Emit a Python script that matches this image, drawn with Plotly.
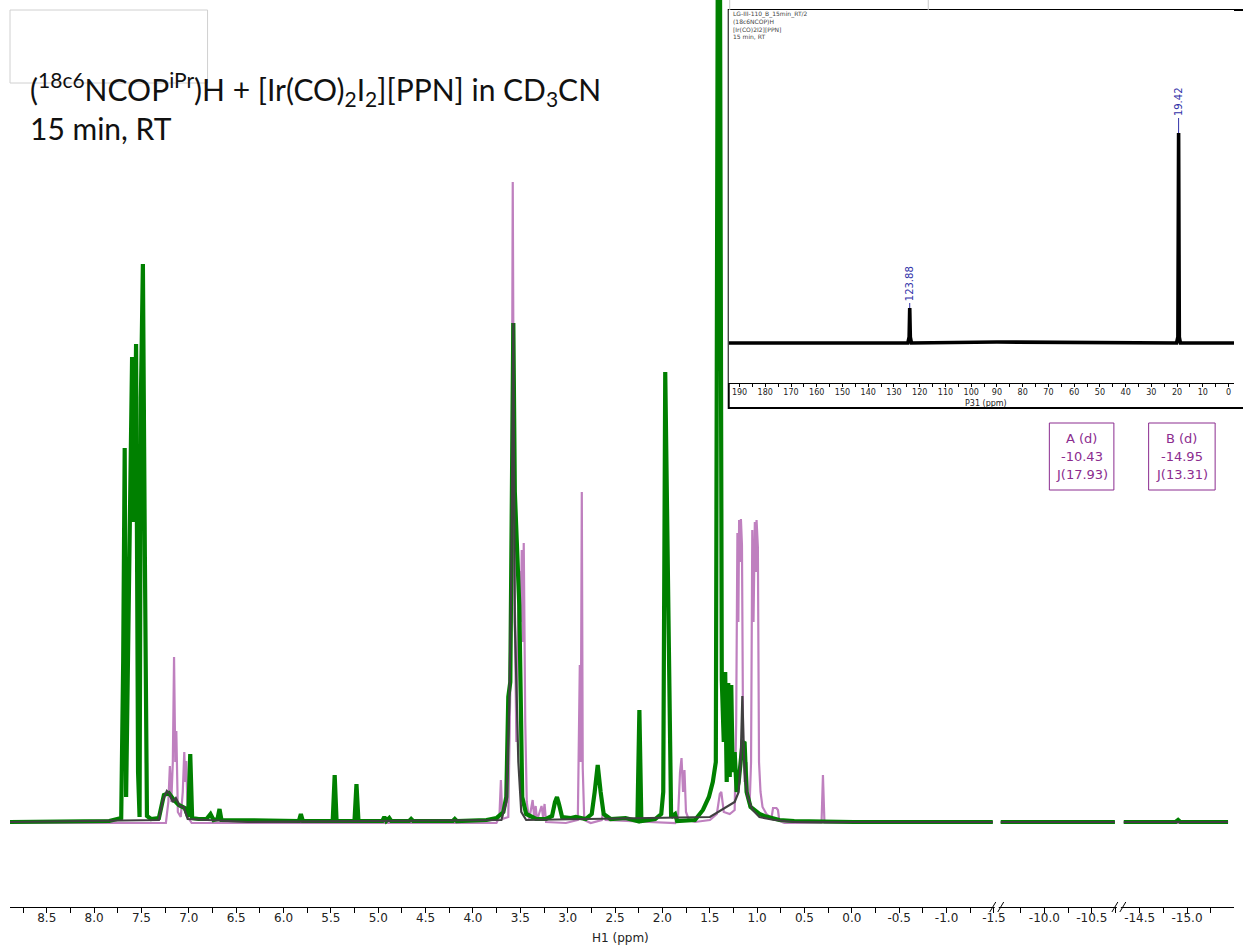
import plotly.graph_objects as go

# ---------------- spectrum data (ppm, intensity in arbitrary units) ----------------
# 1H spectrum, product mixture (green)
GREEN_PPM = [8.888, 8.364, 7.840, 7.756, 7.714, 7.693, 7.677, 7.662, 7.635, 7.620, 7.599, 7.578,
             7.557, 7.536, 7.520, 7.506, 7.485, 7.464, 7.442, 7.400, 7.316, 7.263, 7.211, 7.158,
             7.106, 7.043, 7.006, 6.985, 6.965, 6.896, 6.813, 6.771, 6.739, 6.697, 6.676, 6.655,
             6.058, 5.838, 5.817, 5.796, 5.481, 5.460, 5.440, 5.251, 5.230, 5.209, 4.957, 4.936,
             4.915, 4.884, 4.863, 4.674, 4.653, 4.632, 4.213, 4.192, 4.171, 3.857, 3.752, 3.679,
             3.648, 3.627, 3.606, 3.590, 3.574, 3.558, 3.542, 3.527, 3.511, 3.495, 3.480, 3.438,
             3.333, 3.228, 3.165, 3.134, 3.113, 3.092, 3.059, 2.966, 2.914, 2.809, 2.746, 2.715,
             2.683, 2.652, 2.620, 2.547, 2.389, 2.264, 2.243, 2.222, 2.075, 2.012, 1.991, 1.970,
             1.950, 1.929, 1.908, 1.866, 1.845, 1.656, 1.572, 1.509, 1.468, 1.436, 1.404, 1.373,
             1.352, 1.337, 1.321, 1.305, 1.289, 1.273, 1.258, 1.237, 1.216, 1.195, 1.174, 1.153,
             1.132, 1.111, 1.069, 1.027, 0.975, 0.922, 0.838, 0.765, 0.608, -0.021, -1.488,
             -9.539, -10.744,
             -14.332, -14.880, -14.906, -14.930, -15.433]
GREEN_INT = [0, 0, 1, 3, 4, 160, 374, 25, 230, 340, 465, 300,
             478, 50, 5, 424, 558, 265, 6, 3, 4, 27, 29, 22,
             17, 14, 5, 68, 4, 3, 3, 8, 2, 3, 13, 2,
             1, 1, 8, 1, 1, 47, 1, 1, 38, 1, 1, 5,
             1, 4, 1, 1, 3, 1, 1, 3, 1, 2, 4, 10,
             25, 125, 140, 300, 499, 330, 285, 260, 217, 120, 25, 8,
             3, 3, 6, 20, 25, 18, 5, 4, 5, 3, 8, 30,
             57, 30, 8, 3, 4, 1, 112, 1, 3, 8, 30, 450,
             300, 157, 5, 8, 1, 2, 12, 25, 40, 60, 1300, 142,
             80, 150, 40, 139, 45, 137, 50, 70, 30, 40, 60, 80,
             79, 30, 15, 12, 8, 6, 4, 2, 1, 0, 0,
             0, 0,
             0, 0, 2, 0, 0]

# 1H spectrum, starting ligand (purple)
PURPLE_PPM = [8.888, 7.944, 7.735, 7.420, 7.242, 7.216, 7.200, 7.185, 7.169, 7.156, 7.143, 7.132,
              7.116, 7.085, 7.064, 7.048, 7.038, 7.027, 7.012, 6.970, 6.687, 3.752, 3.721, 3.705,
              3.690, 3.627, 3.595, 3.580, 3.564, 3.542, 3.527, 3.511, 3.495, 3.485, 3.474, 3.464,
              3.448, 3.432, 3.407, 3.370, 3.354, 3.338, 3.323, 3.276, 3.260, 3.244, 3.228, 3.019,
              2.893, 2.872, 2.862, 2.851, 2.841, 2.825, 2.757, 2.641, 2.620, 2.599, 1.866, 1.835,
              1.814, 1.798, 1.782, 1.767, 1.751, 1.720, 1.656, 1.498, 1.425, 1.394, 1.378, 1.352,
              1.289, 1.237, 1.221, 1.208, 1.198, 1.190, 1.179, 1.171, 1.160, 1.148, 1.132, 1.111,
              1.096, 1.080, 1.064, 1.051, 1.038, 1.024, 1.014, 1.006, 0.992, 0.980, 0.964, 0.943,
              0.901, 0.848, 0.832, 0.796, 0.780, 0.765, 0.712, 0.320, 0.305, 0.289, -1.488,
              -9.539, -10.744,
              -14.332, -15.433]
PURPLE_INT = [-1, -1, -1, -1, -1, 20, 56, 20, 60, 165, 60, 91,
              10, 5, 30, 70, 40, 61, 5, -1, -1, -1, 5, 42,
              3, 5, 200, 640, 250, 80, 200, 251, 200, 272, 180, 279,
              100, 20, 2, 22, 5, 16, 2, 16, 5, 18, 0, -1,
              2, 157, 60, 330, 54, 2, -1, 2, 12, 2, -1, 5,
              50, 64, 30, 52, 10, 2, 0, 2, 8, 28, 30, 10,
              8, 12, 100, 289, 200, 302, 260, 303, 277, 80, 40, 60,
              25, 15, 60, 292, 200, 300, 250, 302, 275, 60, 30, 15,
              8, 4, 14, 14, 12, 1, -1, -1, 47, -1, -1,
              -1, -1,
              -1, -1]

# 1H spectrum, reference overlay (dark grey)
GREY_PPM = [8.888, 7.316, 7.274, 7.232, 7.200, 7.169, 7.137, 7.096, 7.054, 7.012, 6.372, 3.700,
            3.648, 3.616, 3.595, 3.574, 3.558, 3.542, 3.521, 3.490, 3.438, 1.498, 1.237, 1.195,
            1.174, 1.156, 1.137, 1.122, 1.101, 1.048, 0.975, 0.817, 0.608, -1.488,
            -9.539, -10.744,
            -14.332, -15.433]
GREY_INT = [0, 2, 22, 31, 28, 20, 24, 16, 15, 3, 0, 2,
            20, 120, 250, 499, 200, 144, 60, 10, 2, 5, 20, 30,
            60, 126, 60, 40, 25, 12, 5, 2, 0, 0,
            0, 0,
            0, 0]

# 31P inset spectrum
P31_PPM = [194.2, 150.0, 124.6, 124.1, 123.88, 123.65, 123.2, 90.0, 20.2, 19.7, 19.42, 19.15, 18.7, -2.1]
P31_INT = [0, 0, 0, 6, 35, 6, 0, 1, 0, 6, 210, 6, 0, 0]
P31_PEAK_LABELS = [123.88, 19.42]

# axis tick labels
SEG_TICKS = [
    ["8.5", "8.0", "7.5", "7.0", "6.5", "6.0", "5.5", "5.0", "4.5", "4.0", "3.5", "3.0",
     "2.5", "2.0", "1.5", "1.0", "0.5", "0.0", "-0.5", "-1.0", "-1.5"],
    ["-10.0", "-10.5"],
    ["-14.5", "-15.0"],
]
P31_TICKS = ["190", "180", "170", "160", "150", "140", "130", "120", "110", "100", "90",
             "80", "70", "60", "50", "40", "30", "20", "10", "0"]

# multiplet annotations
MULTIPLETS = [("A (d)", "-10.43", "J(17.93)"), ("B (d)", "-14.95", "J(13.31)")]

# ---------------- layout geometry ----------------
W, H = 1243, 948
ML, MR, MT, MB = 10, 0, 0, 41
PW, PH = W - ML - MR, H - MT - MB


def fx(px):
    return (px - ML) / PW


def fy(py):
    return (H - MB - py) / PH


SEG_PX = [10, 1004, 1127, 1243]
SEG_RANGE = [(8.888, -1.530), (-9.497, -10.786), (-14.280, -15.496)]

GREEN = "#008000"
PURPLE = "#BF80BF"
GREY = "#404040"
LABEL_PURPLE = "#8B2C8F"
TICKFONT = dict(family="DejaVu Sans", size=12, color="#222222")

fig = go.Figure()


def seg_slice(ppm, inten, rng):
    hi, lo = rng
    xs, ys = [], []
    for p, v in zip(ppm, inten):
        if lo <= p <= hi:
            xs.append(p)
            ys.append(v)
    return xs, ys


axis_names = ["x", "x2", "x3"]
for i, rng in enumerate(SEG_RANGE):
    for ppm, inten, col, wid in [(PURPLE_PPM, PURPLE_INT, PURPLE, 2.2),
                                 (GREEN_PPM, GREEN_INT, GREEN, 4.2),
                                 (GREY_PPM, GREY_INT, GREY, 2.2)]:
        xs, ys = seg_slice(ppm, inten, rng)
        fig.add_trace(go.Scatter(x=xs, y=ys, mode="lines", xaxis=axis_names[i], yaxis="y",
                                 line=dict(color=col, width=wid), showlegend=False,
                                 hoverinfo="skip"))

# inset 31P spectrum
fig.add_trace(go.Scatter(x=P31_PPM, y=P31_INT, mode="lines", xaxis="x4", yaxis="y4",
                         line=dict(color="black", width=3.6), showlegend=False, hoverinfo="skip"))


def ticks_for(labels, rng):
    vals = [float(t) for t in labels]
    hi, lo = rng
    minor = []
    step = 0.5 if len(vals) < 2 else vals[0] - vals[1]
    v = vals[0] + step / 2
    while v > lo:
        if v < hi:
            minor.append(v)
        v -= step
    minor = [m for m in minor if all(abs(m - t) > 1e-6 for t in vals)]
    return vals, minor


layout_axes = {}
for i, rng in enumerate(SEG_RANGE):
    vals, minor = ticks_for(SEG_TICKS[i], rng)
    key = "xaxis" if i == 0 else f"xaxis{i + 1}"
    layout_axes[key] = dict(
        domain=[fx(SEG_PX[i]), fx(SEG_PX[i + 1])], range=list(rng), anchor="y",
        showline=True, linecolor="black", linewidth=1, showgrid=False, zeroline=False,
        ticks="outside", ticklen=5, tickcolor="black", tickwidth=1, ticklabelstandoff=-5,
        tickmode="array", tickvals=vals, ticktext=SEG_TICKS[i], tickfont=TICKFONT,
        minor=dict(tickmode="array", tickvals=minor, ticks="outside", ticklen=5,
                   tickcolor="black", tickwidth=1, showgrid=False),
    )

p31_vals, p31_minor = ticks_for(P31_TICKS, (194.2, -2.1))
layout_axes["xaxis4"] = dict(
    domain=[fx(734), 1.0], range=[194.2, -2.1], anchor="y4",
    showline=True, linecolor="black", linewidth=1, showgrid=False, zeroline=False,
    ticks="outside", ticklen=3, tickcolor="black", tickmode="array", ticklabelstandoff=-2,
    tickvals=p31_vals, ticktext=P31_TICKS, tickfont=dict(family="DejaVu Sans", size=8, color="#222"),
    minor=dict(tickmode="array", tickvals=p31_minor, ticks="outside", ticklen=3, tickcolor="black"),
)
layout_axes["yaxis4"] = dict(domain=[fy(383), fy(10)], range=[-40, 333], anchor="x4",
                             visible=False, showgrid=False, zeroline=False)

shapes = []
# outline boxes
shapes.append(dict(type="rect", xref="paper", yref="paper", x0=fx(734), x1=fx(1260), y0=fy(408), y1=fy(10),
                   line=dict(color="black", width=2), fillcolor="white", layer="below"))
shapes.append(dict(type="rect", xref="paper", yref="paper", x0=fx(1038), x1=fx(1238), y0=fy(262), y1=fy(23),
                   line=dict(color="#c8c8c8", width=1), fillcolor="rgba(0,0,0,0)", layer="below"))
shapes.append(dict(type="rect", xref="paper", yref="paper", x0=fx(735), x1=fx(935), y0=fy(74), y1=fy(-5),
                   line=dict(color="#c8c8c8", width=1), fillcolor="rgba(0,0,0,0)", layer="below"))
shapes.append(dict(type="rect", xref="paper", yref="paper", x0=fx(10), x1=fx(209), y0=fy(83), y1=fy(10),
                   line=dict(color="#d0d0d0", width=1), fillcolor="rgba(0,0,0,0)", layer="below"))

# axis break marks
for bx in (SEG_PX[1], SEG_PX[2]):
    shapes.append(dict(type="line", xref="paper", yref="paper", x0=fx(bx - 2), x1=fx(bx + 2),
                       y0=fy(907), y1=fy(907), line=dict(color="white", width=3), layer="above"))
    for dx in (-4, 4):
        shapes.append(dict(type="line", xref="paper", yref="paper", x0=fx(bx + dx - 3), x1=fx(bx + dx + 3),
                           y0=fy(912), y1=fy(902), line=dict(color="black", width=1), layer="above"))

# 31P peak label leaders
annotations = []
leader = {123.88: (35, 40), 19.42: (210, 225)}
for pk in P31_PEAK_LABELS:
    y0, y1 = leader[pk]
    shapes.append(dict(type="line", xref="x4", yref="y4", x0=pk, x1=pk, y0=y0, y1=y1,
                       line=dict(color="#3232a8", width=1)))
    annotations.append(dict(xref="x4", yref="y4", x=pk, y=y1, text=f"{pk:.2f}", showarrow=False,
                            textangle=-90, xanchor="center", yanchor="bottom",
                            font=dict(family="DejaVu Sans", size=10, color="#3232a8")))

# multiplet boxes
for (name, shift, jval), (bx0, bx1) in zip(MULTIPLETS, [(1057, 1122), (1157, 1224)]):
    shapes.append(dict(type="rect", xref="paper", yref="paper", x0=fx(bx0), x1=fx(bx1),
                       y0=fy(490), y1=fy(423), line=dict(color=LABEL_PURPLE, width=1)))
    cx = (bx0 + bx1) / 2
    for txt, yy in zip((name, shift, jval), (438, 456, 474)):
        annotations.append(dict(xref="paper", yref="paper", x=fx(cx), y=fy(yy), text=txt,
                                showarrow=False, xanchor="center", yanchor="middle",
                                font=dict(family="DejaVu Sans", size=13, color=LABEL_PURPLE)))

# inset header text
for txt, yy in zip(["LG-III-110_B_15min_RT/2", "(18c6NCOP)H", "[Ir(CO)2I2][PPN]", "15 min, RT"],
                   (14, 21.5, 29, 36.5)):
    annotations.append(dict(xref="paper", yref="paper", x=fx(736), y=fy(yy), text=txt, showarrow=False,
                            xanchor="left", yanchor="middle",
                            font=dict(family="DejaVu Sans", size=6, color="#444")))

annotations.append(dict(xref="paper", yref="paper", x=fx(993), y=fy(403), text="P31 (ppm)", showarrow=False,
                        xanchor="center", yanchor="middle", font=dict(family="DejaVu Sans", size=8, color="#222")))

# axis title and sample description
annotations.append(dict(xref="paper", yref="paper", x=fx(625), y=fy(938), text="H1 (ppm)", showarrow=False,
                        xanchor="center", yanchor="middle", font=TICKFONT))
annotations.append(dict(xref="paper", yref="paper", x=fx(28), y=fy(89),
                        text="(<sup>18c6</sup>NCOP<sup>iPr</sup>)H + [Ir(CO)<sub>2</sub>I<sub>2</sub>][PPN] in CD<sub>3</sub>CN",
                        showarrow=False, xanchor="left", yanchor="middle",
                        font=dict(family="Lato", size=30, color="#111")))
annotations.append(dict(xref="paper", yref="paper", x=fx(28), y=fy(128), text="15 min, RT",
                        showarrow=False, xanchor="left", yanchor="middle",
                        font=dict(family="Lato", size=30, color="#111")))

fig.update_layout(
    width=W, height=H, margin=dict(l=ML, r=MR, t=MT, b=MB),
    paper_bgcolor="white", plot_bgcolor="white",
    yaxis=dict(domain=[0, 1], range=[-85, 822], visible=False, showgrid=False, zeroline=False),
    shapes=shapes, annotations=annotations, showlegend=False,
    **layout_axes,
)

fig.write_html(
    "out.html",
    config={"responsive": False},
    post_script="document.body.style.margin='0';document.body.style.overflow='hidden';",
)
